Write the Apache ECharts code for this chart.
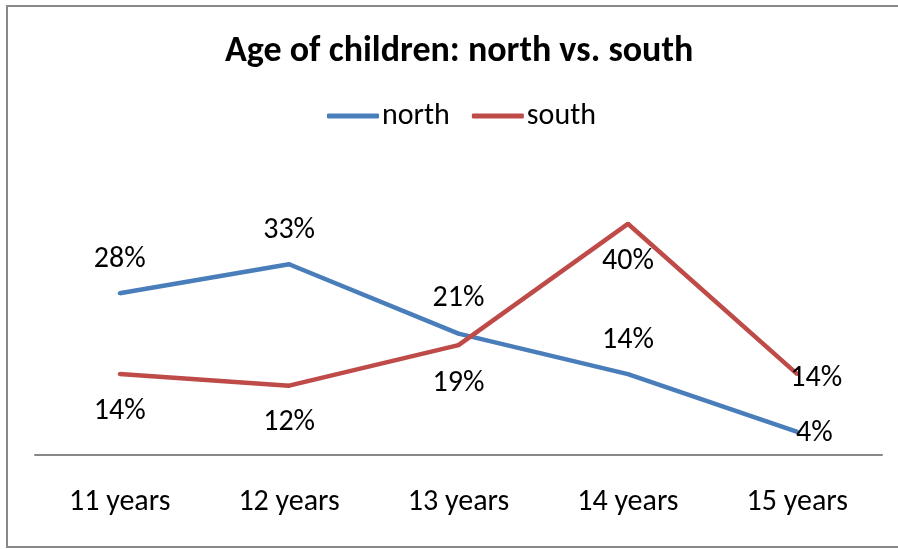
<!DOCTYPE html>
<html>
<head>
<meta charset="utf-8">
<script src="https://cdn.jsdelivr.net/npm/echarts@6/dist/echarts.min.js"></script>
<style>
  html, body { margin: 0; padding: 0; background: #fff; }
  #chart { width: 898px; height: 549px; }
</style>
</head>
<body>
<div id="chart"></div>
<script>
// Age groups along the category axis
const categories = ['11 years', '12 years', '13 years', '14 years', '15 years'];
// Share of children per age group (%)
const northValues = [28, 33, 21, 14, 4];
const southValues = [14, 12, 19, 40, 14];

const FONT = 'Carlito, Lato, "Liberation Sans", sans-serif';

// label nudges per point (last point sits to the right of its marker)
const northOffsets = [[0, -34], [0, -34], [0, -35], [0, -34], [17, 2]];
const southOffsets = [[0, 37], [0, 37], [0, 38], [0, 38], [19, 4]];

function seriesData(values, offsets) {
  return values.map((v, i) => ({
    value: v,
    label: { offset: offsets[i] }
  }));
}

function lineSeries(name, values, offsets, color) {
  return {
    name: name,
    type: 'line',
    data: seriesData(values, offsets),
    color: color,
    lineStyle: { width: 4.5, color: color },
    // tiny markers in the line colour, hidden under the stroke
    symbol: 'circle',
    symbolSize: 4,
    showSymbol: true,
    itemStyle: { color: color, borderWidth: 0 },
    label: {
      show: true,
      position: 'inside',
      formatter: p => p.value + '%',
      fontFamily: FONT,
      fontSize: 30,
      color: '#000'
    },
    emphasis: { disabled: true }
  };
}

const chart = echarts.init(document.getElementById('chart'), null, { renderer: 'canvas' });

chart.setOption({
  animation: false,
  backgroundColor: '#fff',
  title: {
    text: 'Age of children: north vs. south',
    left: 220,
    top: 29,
    textStyle: { fontFamily: FONT, fontSize: 36, fontWeight: 'bold', color: '#000' }
  },
  legend: {
    top: 96,
    left: 322,
    itemWidth: 52,
    itemHeight: 5,
    itemGap: 22,
    icon: 'roundRect',
    textStyle: { fontFamily: FONT, fontSize: 30, color: '#000', padding: [0, 0, 0, -2] },
    data: ['north', 'south']
  },
  grid: { left: 35, right: 16, top: 166, bottom: 94, containLabel: false },
  xAxis: {
    type: 'category',
    data: categories,
    boundaryGap: true,
    axisLine: { lineStyle: { color: '#888', width: 2 } },
    axisTick: { show: false },
    axisLabel: { fontFamily: FONT, fontSize: 30, color: '#000', margin: 32 }
  },
  yAxis: {
    type: 'value',
    min: 0,
    max: 50,
    show: false,
    splitLine: { show: false }
  },
  series: [
    lineSeries('north', northValues, northOffsets, '#4A7EBB'),
    lineSeries('south', southValues, southOffsets, '#BE4B48')
  ],
  graphic: [
    {
      type: 'rect',
      shape: { x: 7, y: 6, width: 905, height: 541 },
      style: { fill: 'none', stroke: '#888', lineWidth: 2 },
      silent: true,
      z: -1
    }
  ]
});
</script>
</body>
</html>
